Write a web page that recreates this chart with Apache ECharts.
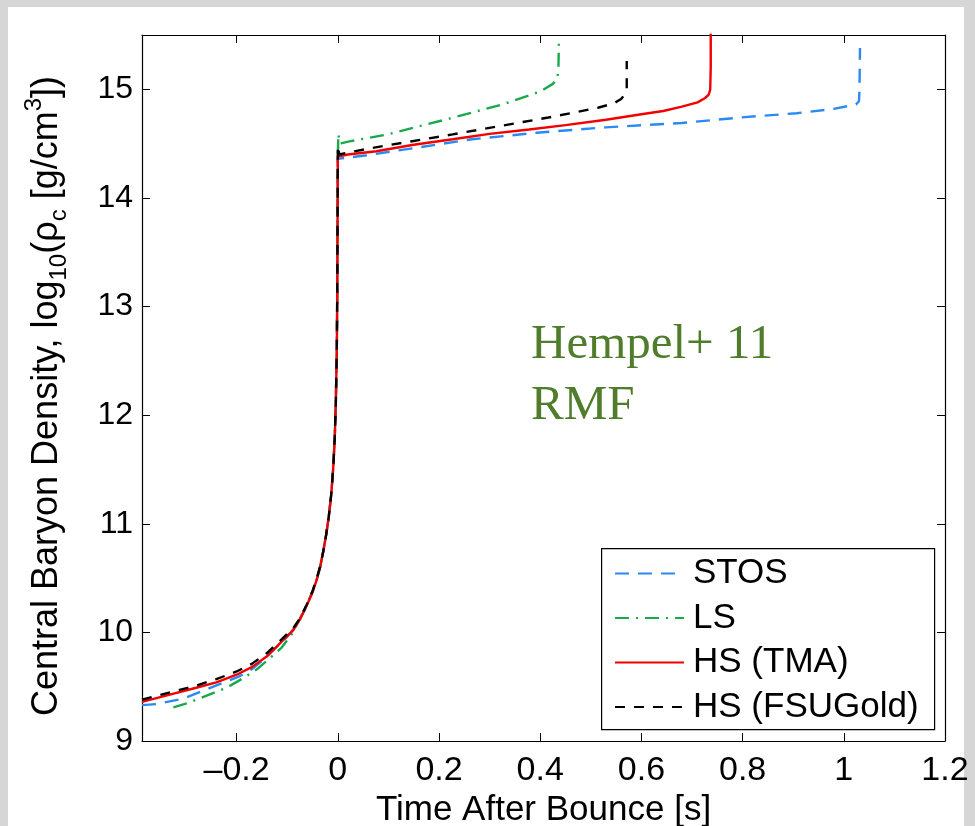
<!DOCTYPE html>
<html>
<head>
<meta charset="utf-8">
<script src="https://cdn.jsdelivr.net/npm/echarts@6/dist/echarts.min.js"></script>
<style>
  html, body { margin: 0; padding: 0; background: #d6d6d6; }
  #panel { position: absolute; left: 8px; top: 7px; width: 956px; height: 819px; background: #fff; }
  #main { position: absolute; left: 0; top: 0; width: 975px; height: 826px; }
</style>
</head>
<body>
<div id="panel"></div>
<div id="main"></div>
<script>
// 数据: [时间 s, log10 密度]
var seriesNames = ['STOS', 'LS', 'HS (TMA)', 'HS (FSUGold)'];

var stos = [
    [-0.387, 9.33], [-0.358, 9.34], [-0.305, 9.39], [-0.246, 9.50], [-0.197, 9.59], [-0.17, 9.66],
    [-0.147, 9.75], [-0.12, 9.87], [-0.1, 9.96], [-0.088, 10.03], [-0.075, 10.12], [-0.062, 10.24],
    [-0.05, 10.37], [-0.042, 10.48], [-0.035, 10.6], [-0.029, 10.74], [-0.023, 10.9], [-0.018, 11.06],
    [-0.013, 11.27], [-0.009, 11.52], [-0.006, 11.8], [-0.004, 12.1], [-0.002, 12.6], [-0.001, 13.2], [0, 14.36],
    [0.053, 14.39], [0.152, 14.46], [0.265, 14.54], [0.393, 14.60], [0.53, 14.65], [0.68, 14.69],
    [0.794, 14.74], [0.907, 14.78], [0.98, 14.82], [1.013, 14.85], [1.024, 14.86], [1.03, 14.89],
    [1.031, 15.0], [1.032, 15.38]
];

var ls = [
    [-0.325, 9.31], [-0.296, 9.35], [-0.253, 9.43], [-0.22, 9.49], [-0.19, 9.57], [-0.16, 9.66],
    [-0.135, 9.76], [-0.111, 9.86], [-0.09, 9.99], [-0.07, 10.17], [-0.06, 10.27], [-0.05, 10.38],
    [-0.042, 10.48], [-0.035, 10.6], [-0.029, 10.74], [-0.023, 10.9], [-0.018, 11.06], [-0.013, 11.27],
    [-0.009, 11.52], [-0.006, 11.8], [-0.004, 12.1], [-0.002, 12.6], [-0.001, 13.2], [0, 14.37], [0.001, 14.59],
    [0.004, 14.50], [0.023, 14.52], [0.099, 14.585], [0.22, 14.73], [0.325, 14.86], [0.40, 14.98],
    [0.425, 15.05], [0.434, 15.1], [0.436, 15.2], [0.437, 15.45]
];

var hsTma = [
    [-0.387, 9.36], [-0.33, 9.43], [-0.28, 9.49], [-0.24, 9.54], [-0.2, 9.61], [-0.17, 9.68],
    [-0.14, 9.78], [-0.11, 9.92], [-0.088, 10.02], [-0.075, 10.12], [-0.062, 10.24], [-0.05, 10.37],
    [-0.042, 10.48], [-0.035, 10.6], [-0.029, 10.74], [-0.023, 10.9], [-0.018, 11.06], [-0.013, 11.27],
    [-0.009, 11.52], [-0.006, 11.8], [-0.004, 12.1], [-0.002, 12.6], [-0.001, 13.2], [0, 14.38],
    [0.02, 14.4], [0.076, 14.43], [0.15, 14.49], [0.227, 14.54], [0.3, 14.59], [0.378, 14.63],
    [0.45, 14.67], [0.53, 14.72], [0.6, 14.77], [0.643, 14.8], [0.68, 14.84], [0.711, 14.88],
    [0.726, 14.92], [0.733, 14.95], [0.736, 15.0], [0.737, 15.2], [0.737, 15.6]
];

var hsFsu = [
    [-0.387, 9.38], [-0.33, 9.45], [-0.28, 9.51], [-0.24, 9.57], [-0.2, 9.64], [-0.17, 9.71],
    [-0.14, 9.81], [-0.11, 9.94], [-0.088, 10.04], [-0.075, 10.13], [-0.062, 10.25], [-0.05, 10.38],
    [-0.042, 10.49], [-0.035, 10.61], [-0.029, 10.74], [-0.023, 10.9], [-0.018, 11.06], [-0.013, 11.27],
    [-0.009, 11.52], [-0.006, 11.8], [-0.004, 12.1], [-0.002, 12.6], [-0.001, 13.2], [0, 14.48], [0.003, 14.4],
    [0.023, 14.42], [0.068, 14.46], [0.144, 14.52], [0.227, 14.585], [0.318, 14.66], [0.416, 14.74],
    [0.514, 14.83], [0.545, 14.87], [0.56, 14.91], [0.568, 14.96], [0.571, 15.0], [0.571, 15.26]
];

var xMin = -0.387, xMax = 1.2;
var yMin = 9, yMax = 15.5, yStep = 1;

var FONT = '"Liberation Sans", Arial, Helvetica, sans-serif';

window.onload = function () {

    var chart = echarts.init(document.getElementById('main'));

    function xLabel(v) {
        var k = v / 0.2;
        if (Math.abs(k - Math.round(k)) > 1e-6) return '';
        var s = String(Math.round(v * 10) / 10);
        return v < 0 ? '\u2013' + s.slice(1) : s;
    }

    function yLabel(v) {
        return Math.abs(v - Math.round(v)) > 1e-6 ? '' : String(v);
    }

    var axisLine = { show: true, onZero: false, lineStyle: { color: '#000', width: 1.2 } };
    var axisTick = { show: true, inside: true, length: 8, lineStyle: { color: '#000', width: 1 } };

    function line(name, data, color, type) {
        return {
            name: name,
            type: 'line',
            data: data,
            symbol: 'none',
            showSymbol: false,
            clip: true,
            animation: false,
            lineStyle: { color: color, width: 2.4, type: type },
            itemStyle: { color: color }
        };
    }

    var option = {
        backgroundColor: 'transparent',
        animation: false,
        grid: { left: 142, top: 35, right: 30, bottom: 85, containLabel: false, outerBoundsMode: 'none' },
        xAxis: [{
            type: 'value', min: xMin, max: xMax, splitNumber: 8,
            name: 'Time After Bounce [s]', nameLocation: 'middle', nameGap: 45,
            nameTextStyle: { fontSize: 35, fontFamily: FONT, color: '#000' },
            axisLine: axisLine, axisTick: axisTick, splitLine: { show: false },
            axisLabel: { formatter: xLabel, margin: 13, fontSize: 34, fontFamily: FONT, color: '#000' }
        }, {
            type: 'value', min: xMin, max: xMax, splitNumber: 8, position: 'top',
            axisLine: axisLine, axisTick: axisTick, splitLine: { show: false },
            axisLabel: { show: false }
        }],
        yAxis: [{
            type: 'value', min: yMin, max: yMax, interval: yStep,
            name: 'Central Baryon Density, log{sub|10}(\u03c1{sub|c} [g/cm{sup|3}])',
            nameLocation: 'middle', nameRotate: 90, nameGap: 77,
            nameTextStyle: {
                fontSize: 36, fontFamily: FONT, color: '#000',
                padding: [0, 16, 0, 0],
                rich: {
                    sub: { fontSize: 24, fontFamily: FONT, color: '#000', lineHeight: 24, padding: [25, 0, 0, 0] },
                    sup: { fontSize: 24, fontFamily: FONT, color: '#000', lineHeight: 24, padding: [0, 0, 25, 0] }
                }
            },
            axisLine: axisLine, axisTick: axisTick, splitLine: { show: false },
            axisLabel: { formatter: yLabel, margin: 9, fontSize: 32, fontFamily: FONT, color: '#000' }
        }, {
            type: 'value', min: yMin, max: yMax, interval: yStep, position: 'right',
            axisLine: axisLine, axisTick: axisTick, splitLine: { show: false },
            axisLabel: { show: false }
        }],
        legend: {
            data: seriesNames,
            orient: 'vertical',
            left: 601, top: 548,
            borderWidth: 0,
            padding: [8, 0, 8, 13],
            itemWidth: 69, itemHeight: 14, itemGap: 9.5,
            selectedMode: false,
            itemStyle: { opacity: 0 },
            textStyle: { fontSize: 35, lineHeight: 34, fontFamily: FONT, color: '#000', padding: [0, 0, 0, 4] }
        },
        graphic: [{
            type: 'rect', left: 601, top: 548, z: -1,
            shape: { width: 333, height: 181 },
            style: { fill: '#fff', stroke: '#000', lineWidth: 1.2 }
        }, {
            type: 'text', left: 531, top: 315, z: 10,
            style: {
                text: 'Hempel+ 11\nRMF',
                font: '49px "Liberation Serif", "Times New Roman", serif',
                fill: '#4f7d2c',
                lineHeight: 61
            }
        }],
        series: [
            line(seriesNames[0], stos, '#2a8af0', [14, 9]),
            line(seriesNames[1], ls, '#19a94b', [14, 7, 2, 7]),
            line(seriesNames[2], hsTma, '#f00000', 'solid'),
            line(seriesNames[3], hsFsu, '#000000', [10, 9])
        ]
    };

    chart.setOption(option);
};
</script>
</body>
</html>
